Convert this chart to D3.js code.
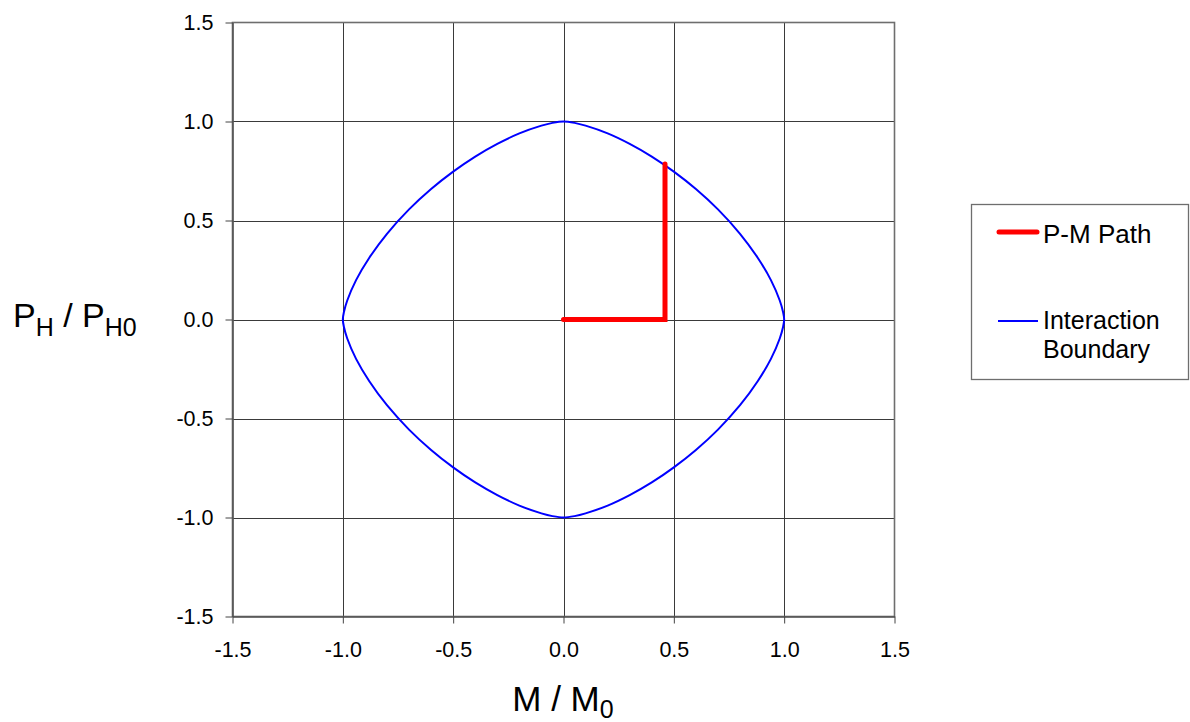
<!DOCTYPE html>
<html>
<head>
<meta charset="utf-8">
<script src="https://cdn.jsdelivr.net/npm/d3@7/dist/d3.min.js"></script>
<style>
  html, body { margin: 0; padding: 0; background: #fff; }
  svg { display: block; font-family: "Liberation Sans", Arial, sans-serif; }
</style>
</head>
<body>
<svg id="chart" width="1190" height="722"></svg>
<script>
// Axis ticks (both axes share the same range)
const xTicks = [-1.5, -1.0, -0.5, 0.0, 0.5, 1.0, 1.5];
const yTicks = [-1.5, -1.0, -0.5, 0.0, 0.5, 1.0, 1.5];

// Loading path in normalised moment / horizontal-load space
const pathM = [0.0, 0.46, 0.46];
const pathP = [0.0, 0.0, 0.785];

// Interaction boundary, traced clockwise from (0, 1)
const boundaryM = [
  0.00, 0.05, 0.10, 0.20, 0.30, 0.40, 0.50, 0.60, 0.70, 0.80, 0.88, 0.94, 0.98, 0.995,
  1.00, 0.995, 0.98, 0.94, 0.88, 0.80, 0.70, 0.60, 0.50, 0.40, 0.30, 0.20, 0.10, 0.05,
  0.00, -0.05, -0.10, -0.20, -0.30, -0.40, -0.50, -0.60, -0.70, -0.80, -0.88, -0.94, -0.98, -0.995,
  -1.00, -0.995, -0.98, -0.94, -0.88, -0.80, -0.70, -0.60, -0.50, -0.40, -0.30, -0.20, -0.10, -0.05
];
const boundaryP = [
  1.00, 0.993, 0.979, 0.940, 0.887, 0.823, 0.747, 0.659, 0.556, 0.433, 0.312, 0.199, 0.096, 0.038,
  0.00, -0.038, -0.096, -0.199, -0.312, -0.433, -0.556, -0.659, -0.747, -0.823, -0.887, -0.940, -0.979, -0.993,
  -1.00, -0.993, -0.979, -0.940, -0.887, -0.823, -0.747, -0.659, -0.556, -0.433, -0.312, -0.199, -0.096, -0.038,
  0.00, 0.038, 0.096, 0.199, 0.312, 0.433, 0.556, 0.659, 0.747, 0.823, 0.887, 0.940, 0.979, 0.993
];

const seriesNames = ["P-M Path", "Interaction Boundary"];

const svg = d3.select("#chart");

const plotLeft = 232.5, plotRight = 894.5, plotTop = 22.5, plotBottom = 616.5;
const x = d3.scaleLinear().domain([-1.5, 1.5]).range([plotLeft, plotRight]);
const y = d3.scaleLinear().domain([-1.5, 1.5]).range([plotBottom, plotTop]);

const fmt = d => d.toFixed(1);

// Grid
const grid = svg.append("g").attr("stroke", "#3a3a3a").attr("stroke-width", 1);
grid.selectAll("line.v").data(xTicks.slice(1, -1)).join("line")
  .attr("x1", d => Math.round(x(d)) + 0.5).attr("x2", d => Math.round(x(d)) + 0.5)
  .attr("y1", plotTop).attr("y2", plotBottom);
grid.selectAll("line.h").data(yTicks.slice(1, -1)).join("line")
  .attr("y1", d => Math.round(y(d)) + 0.5).attr("y2", d => Math.round(y(d)) + 0.5)
  .attr("x1", plotLeft).attr("x2", plotRight);

// Frame
svg.append("rect")
  .attr("x", plotLeft).attr("y", plotTop)
  .attr("width", plotRight - plotLeft).attr("height", plotBottom - plotTop)
  .attr("fill", "none").attr("stroke", "#6e6e6e").attr("stroke-width", 1.6);

// Axes
const yAxis = svg.append("g")
  .attr("transform", `translate(${plotLeft},0)`)
  .call(d3.axisLeft(y).tickValues(yTicks).tickFormat(fmt).tickSize(7).tickSizeOuter(0).tickPadding(12));
const xAxis = svg.append("g")
  .attr("transform", `translate(0,${plotBottom})`)
  .call(d3.axisBottom(x).tickValues(xTicks).tickFormat(fmt).tickSize(7).tickSizeOuter(0).tickPadding(18));
[xAxis, yAxis].forEach(g => {
  g.select(".domain").attr("stroke", "#555").attr("stroke-width", 1.6);
  g.selectAll(".tick line").attr("stroke", "#444");
  g.selectAll(".tick text").attr("font-size", 21.5).attr("fill", "#000")
    .attr("font-family", "'Liberation Sans', Arial, sans-serif");
});

// Interaction boundary
const boundary = boundaryM.map((m, i) => [m, boundaryP[i]]);
svg.append("path")
  .attr("d", d3.line().x(d => x(d[0])).y(d => y(d[1])).curve(d3.curveCatmullRomClosed.alpha(0.5))(boundary))
  .attr("fill", "none").attr("stroke", "#0000ff").attr("stroke-width", 2);

// P-M path
const pm = pathM.map((m, i) => [m, pathP[i]]);
svg.append("path")
  .attr("d", d3.line().x(d => x(d[0])).y(d => y(d[1]))(pm))
  .attr("fill", "none").attr("stroke", "#ff0000").attr("stroke-width", 5)
  .attr("stroke-linecap", "round").attr("stroke-linejoin", "miter");

// Axis titles
const yTitle = svg.append("text").attr("x", 13).attr("y", 327).attr("font-size", 34).attr("fill", "#000");
yTitle.append("tspan").text("P");
yTitle.append("tspan").attr("font-size", 25).attr("dy", 9).text("H");
yTitle.append("tspan").attr("dy", -9).text(" / P");
yTitle.append("tspan").attr("font-size", 25).attr("dy", 9).text("H0");

const xTitle = svg.append("text").attr("x", 563).attr("y", 711).attr("text-anchor", "middle")
  .attr("font-size", 35).attr("fill", "#000");
xTitle.append("tspan").text("M / M");
xTitle.append("tspan").attr("font-size", 25).attr("dy", 7).text("0");

// Legend
const lg = svg.append("g");
lg.append("rect").attr("x", 971.5).attr("y", 204.5).attr("width", 217).attr("height", 175)
  .attr("fill", "#fff").attr("stroke", "#6e6e6e").attr("stroke-width", 1.3);
lg.append("line").attr("x1", 999).attr("x2", 1037).attr("y1", 232).attr("y2", 232)
  .attr("stroke", "#ff0000").attr("stroke-width", 5).attr("stroke-linecap", "round");
lg.append("text").attr("x", 1043).attr("y", 243).attr("font-size", 26).text(seriesNames[0]);
lg.append("line").attr("x1", 998).attr("x2", 1038).attr("y1", 321).attr("y2", 321)
  .attr("stroke", "#0000ff").attr("stroke-width", 2);
lg.append("text").attr("x", 1043).attr("y", 329).attr("font-size", 25).text("Interaction");
lg.append("text").attr("x", 1043).attr("y", 358).attr("font-size", 25).text("Boundary");
</script>
</body>
</html>
